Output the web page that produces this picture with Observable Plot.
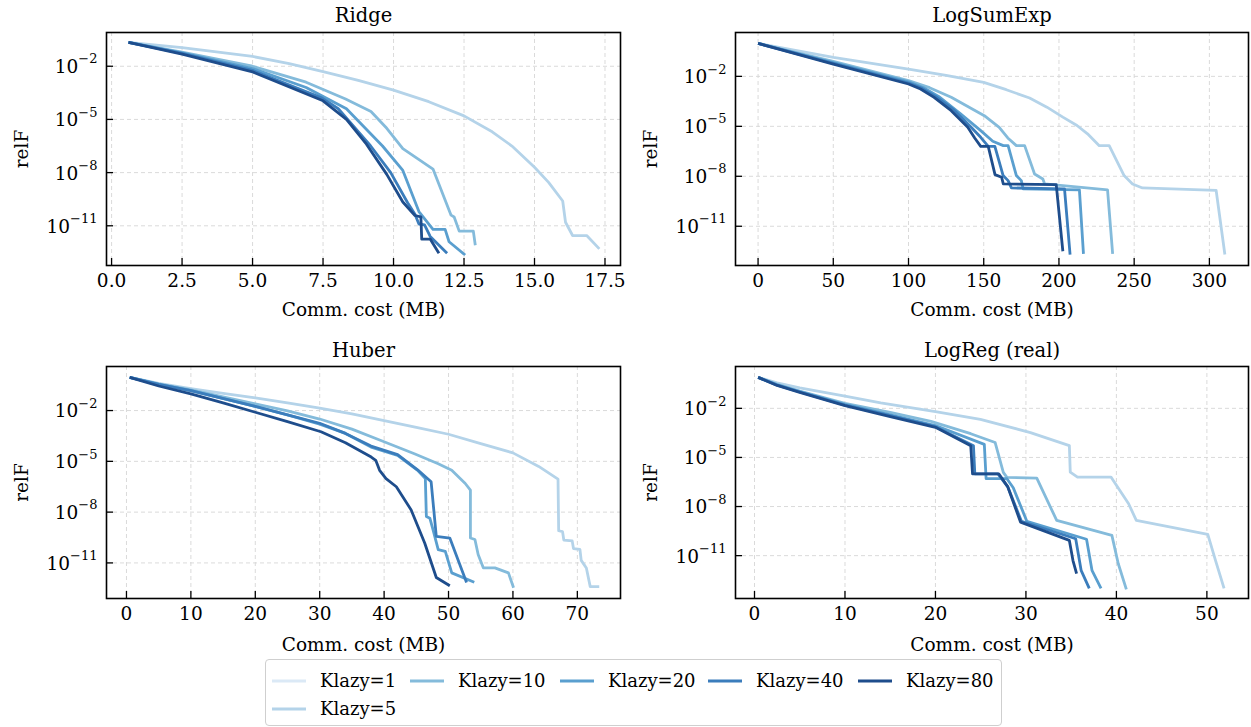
<!DOCTYPE html>
<html>
<head>
<meta charset="utf-8">
<script src="https://cdn.jsdelivr.net/npm/d3@7"></script>
<script src="https://cdn.jsdelivr.net/npm/@observablehq/plot@0.6"></script>
<style>
  html, body { margin: 0; padding: 0; background: #fff; }
  #root { position: relative; width: 1251px; height: 727px; background: #fff; font-family: "DejaVu Serif", serif; overflow: hidden; }
  .panel { position: absolute; }
  #legend { position: absolute; box-sizing: border-box; border: 1px solid #cfcfcf; border-radius: 4px; background: #fff; }
  .litem { position: absolute; font-size: 18px; color: #000; white-space: nowrap; line-height: 1; }
</style>
</head>
<body>
<div id="root"></div>
<script>
// ---------------- series identity ----------------
const kLabels = ["Klazy=1", "Klazy=5", "Klazy=10", "Klazy=20", "Klazy=40", "Klazy=80"];
const kColors = ["#dbe9f6", "#b4d3e9", "#84bbdb", "#5a9fcf", "#3b7dbc", "#1e4d8c"];

// ---------------- data: [comm. cost MB, relF] ----------------
// Ridge
const ridgeK5 = [[0.6,2.2e-1],[2.5,1.12e-1],[5,3.55e-2],[6.3,1.41e-2],[7.5,5.01e-3],[8.75,1.58e-3],[10,4.47e-4],[11.25,1e-4],[12.5,1.58e-5],[13.5,2e-6],[14.2,3.16e-7],[15.0,2e-8],[15.5,2.82e-9],[16.0,2.51e-10],[16.1,1.58e-11],[16.35,2.82e-12],[16.85,2.82e-12],[17.3,5.0e-13]];
const ridgeK10 = [[0.6,2.2e-1],[2.5,6.31e-2],[5,1e-2],[6.9,1.26e-3],[8.3,1.41e-4],[9.2,2.82e-5],[9.76,3.16e-6],[10.33,2.24e-7],[11.4,1.58e-8],[12.04,3.98e-11],[12.15,3.16e-11],[12.33,5.01e-12],[12.83,5.01e-12],[12.9,7.94e-13]];
const ridgeK20 = [[0.6,2.2e-1],[2.5,5.62e-2],[5,7.41e-3],[6.9,6.31e-4],[8.33,3.98e-5],[9.61,3.16e-7],[10.33,1.32e-8],[10.9,6.31e-11],[11.4,6.31e-12],[11.83,6.31e-12],[11.97,1.26e-12],[12.54,2.24e-13]];
const ridgeK40 = [[0.6,2.2e-1],[2.5,5.25e-2],[5,5.89e-3],[7.47,1.58e-4],[8.04,3.98e-5],[9.19,3.16e-7],[9.9,1e-8],[10.5,2e-10],[10.76,4.47e-11],[10.9,1.26e-11],[11.1,1.12e-11],[11.3,2.51e-12],[11.9,2.82e-13]];
const ridgeK80 = [[0.6,2.2e-1],[2.5,4.79e-2],[5,4.79e-3],[7.5,1.12e-4],[8.33,1e-5],[9.04,3.98e-7],[9.76,7.94e-9],[10.33,2.19e-10],[10.76,3.8e-11],[10.97,3.16e-11],[11.0,1.78e-12],[11.3,1.78e-12],[11.61,2.82e-13]];
// LogSumExp
const lseK5 = [[0,0.955],[50,0.138],[100,2.75e-2],[125,1.15e-2],[150,4.37e-3],[165,1.58e-3],[180.5,5.01e-4],[192,1.41e-4],[202.6,3.55e-5],[212,1.12e-5],[219,3.55e-6],[226.8,6.92e-7],[233.4,6.92e-7],[243.3,1.1e-8],[248.9,3.47e-9],[255.5,2e-9],[304.5,1.41e-9],[310.3,2e-13]];
const lseK10 = [[0,0.955],[50,7.94e-2],[100,5.5e-3],[114,2.09e-3],[128.4,5.5e-4],[150.4,4.37e-5],[160.3,8.71e-6],[166,2e-6],[171.7,6.92e-7],[177.2,6.92e-7],[183.8,1.38e-8],[189.3,6.92e-9],[190.5,3.47e-9],[232.3,1.51e-9],[235.7,2.19e-13]];
const lseK20 = [[0,0.955],[50,6.61e-2],[100,4.68e-3],[110,2.09e-3],[120,6.31e-4],[134,6.31e-5],[148,5.5e-6],[156,1.26e-6],[163,6.92e-7],[166.2,6.92e-7],[171.7,1.1e-8],[175,5.5e-9],[176.2,1.74e-9],[213.6,1.51e-9],[216.3,2.19e-13]];
const lseK40 = [[0,0.955],[50,6.03e-2],[100,3.98e-3],[109,1.91e-3],[118,6.31e-4],[130,1e-4],[141,1e-5],[148,2.19e-6],[153,6.31e-7],[157.4,6.31e-7],[162.9,1.1e-8],[166.2,5.5e-9],[168.4,2e-9],[203.7,1.74e-9],[207.4,2e-13]];
const lseK80 = [[0,0.955],[50,5.5e-2],[100,3.47e-3],[108,1.74e-3],[117,5.5e-4],[128.4,8.71e-5],[139.4,8.71e-6],[144,2e-6],[148,6.31e-7],[153,6.31e-7],[157.5,1.26e-8],[161.9,8.71e-9],[163,3.47e-9],[198.2,3.16e-9],[202.6,3.16e-13]];
// Huber
const huberK5 = [[0.5,0.912],[5,0.398],[10,0.2],[15,0.105],[20,5.62e-2],[25,2.82e-2],[30,1.41e-2],[35,6.31e-3],[40,2.51e-3],[45,1e-3],[50,3.98e-4],[55,1.12e-4],[60,3.16e-5],[64,5.01e-6],[67,8.91e-7],[67.1,7.94e-10],[67.7,7.08e-10],[67.9,2.24e-10],[69.2,2e-10],[69.4,7.08e-11],[70.4,6.31e-11],[70.6,1.41e-11],[71.4,5.01e-12],[72,3.98e-13],[73.4,3.98e-13]];
const huberK10 = [[0.5,0.912],[5,0.38],[10,0.166],[20,2.51e-2],[25,9.55e-3],[30,3.16e-3],[35,7.94e-4],[39.5,1.7e-4],[44.7,2.82e-5],[48.4,7.24e-6],[50.5,2.95e-6],[52.6,4.9e-7],[53.4,2e-7],[53.4,2.95e-10],[54.1,2.4e-10],[54.6,3.16e-11],[55.4,5.13e-12],[57.2,5.13e-12],[59.3,2.57e-12],[60.1,3.39e-13]];
const huberK20 = [[0.5,0.912],[5,0.355],[10,0.151],[20,1.74e-2],[25,5.62e-3],[30,1.58e-3],[34,4.47e-4],[37.97,6.92e-5],[42.1,2.24e-5],[45.2,2.95e-6],[46.4,9.55e-7],[46.56,5.5e-9],[47.1,4.37e-9],[47.6,8.91e-10],[48.4,6.03e-11],[49.5,4.79e-11],[50.5,2.57e-12],[54.0,7.24e-13]];
const huberK40 = [[0.5,0.912],[5,0.355],[10,0.151],[20,1.74e-2],[25,5.62e-3],[30,1.78e-3],[34,4.47e-4],[37.97,7.94e-5],[42.1,2.51e-5],[45.2,3.16e-6],[47.3,6.17e-7],[48.1,3.72e-10],[50.2,2.95e-10],[52.8,6.92e-13]];
const huberK80 = [[0.5,0.912],[5,0.282],[10,9.55e-2],[15,2.82e-2],[20,7.94e-3],[25,2.24e-3],[30.2,5.62e-4],[34,1.26e-4],[38,1.78e-5],[38.7,1.15e-5],[39.3,2.95e-6],[40.3,9.55e-7],[41.9,3.16e-7],[44.2,1.35e-8],[46.3,1.51e-10],[48.1,1.38e-12],[50.2,4.47e-13]];
// LogReg (real)
const logregK5 = [[0.4,0.776],[2.5,0.355],[5,0.178],[10,5.62e-2],[13.95,2.19e-2],[20,6.31e-3],[24.97,2.14e-3],[30.5,3.31e-4],[34.8,5.25e-5],[34.9,1.26e-6],[35.7,6.31e-7],[39.4,6.31e-7],[41.35,1.48e-8],[42.2,1.41e-9],[50.1,2e-10],[50.96,5.01e-12],[51.9,1e-13]];
const logregK10 = [[0.4,0.776],[2.5,0.295],[5,0.112],[10,2e-2],[15,5.62e-3],[19.5,1.58e-3],[23.9,2.82e-4],[26.6,8.13e-5],[27.5,1.23e-6],[27.9,6.03e-7],[31.2,5.5e-7],[33.4,1.41e-9],[39.5,1.74e-10],[40.2,3.31e-12],[41.1,8.71e-14]];
const logregK20 = [[0.4,0.776],[2.5,0.275],[5,0.105],[10,1.74e-2],[15,3.98e-3],[20,8.91e-4],[25.4,6.31e-5],[25.6,5.01e-7],[27.9,5.01e-7],[28.6,1.41e-7],[30.1,1.26e-9],[36.7,1e-10],[37.3,1.26e-12],[38.3,1e-13]];
const logregK40 = [[0.4,0.776],[2.5,0.263],[5,0.1],[10,1.58e-2],[15,3.55e-3],[20,7.59e-4],[24.2,5.25e-5],[24.35,1e-6],[26.9,1e-6],[28.0,1.58e-7],[29.5,1.26e-9],[35.5,1.07e-10],[36.1,1.26e-12],[37.0,1e-13]];
const logregK80 = [[0.4,0.776],[2.5,0.251],[5,9.55e-2],[10,1.45e-2],[15,3.16e-3],[20,6.92e-4],[23.9,5.25e-5],[24.1,1e-6],[27.0,1e-6],[28.0,1.58e-7],[29.4,1.12e-9],[34.8,8.51e-11],[35.2,5.01e-12],[35.6,7.94e-13]];

// ---------------- ticks ----------------
const yTicks = [1e-11, 1e-8, 1e-5, 1e-2];
const ridgeXTicks = [0, 2.5, 5, 7.5, 10, 12.5, 15, 17.5];
const lseXTicks = [0, 50, 100, 150, 200, 250, 300];
const huberXTicks = [0, 10, 20, 30, 40, 50, 60, 70];
const logregXTicks = [0, 10, 20, 30, 40, 50];

// ---------------- helpers ----------------
const FONT = "'DejaVu Serif', serif";
const TICK_FS = 18.5, EXP_FS = 13;
const expText = d => String(Math.round(Math.log10(d))).replace("-", "\u2212");
const measureCtx = document.createElement("canvas").getContext("2d");
const textWidth = (s, size) => { measureCtx.font = `${size}px 'DejaVu Serif'`; return measureCtx.measureText(s).width; };

function yTickLabelMarks() {
  const marks = [];
  for (const t of yTicks) {
    const e = expText(t);
    const w = textWidth(e, EXP_FS);
    marks.push(Plot.text([t], {y: d => d, text: () => e, frameAnchor: "left", textAnchor: "end", lineAnchor: "middle", dx: -9, dy: -7, fontSize: EXP_FS, fill: "#000"}));
    marks.push(Plot.text([t], {y: d => d, text: () => "10", frameAnchor: "left", textAnchor: "end", lineAnchor: "middle", dx: -9 - w, dy: 1, fontSize: TICK_FS, fill: "#000"}));
  }
  return marks;
}

function makePanel(p) {
  const W = p.width, H = p.height, m = p.margin;
  const iw = W - m.left - m.right, ih = H - m.top - m.bottom;
  const series = [
    {data: p.k5, color: kColors[1]},
    {data: p.k10, color: kColors[2]},
    {data: p.k20, color: kColors[3]},
    {data: p.k40, color: kColors[4]},
    {data: p.k80, color: kColors[5]}
  ];
  const marks = [
    Plot.ruleX(p.xTicks, {x: d => d, stroke: "#d6d6d6", strokeWidth: 0.9, strokeDasharray: "4,3"}),
    Plot.ruleY(yTicks, {y: d => d, stroke: "#d6d6d6", strokeWidth: 0.9, strokeDasharray: "4,3"}),
    ...series.map(s => Plot.line(s.data, {x: d => d[0], y: d => d[1], stroke: s.color, strokeWidth: 2.8, strokeLinejoin: "round", strokeLinecap: "butt"})),
    Plot.tickX(p.xTicks, {x: d => d, stroke: "#000", strokeWidth: 1.3, insetTop: ih - 7}),
    Plot.tickY(yTicks, {y: d => d, stroke: "#000", strokeWidth: 1.3, insetRight: iw - 7}),
    Plot.frame({stroke: "#000", strokeWidth: 1.6}),
    ...yTickLabelMarks(),
    Plot.text([p.title], {text: d => d, frameAnchor: "top", lineAnchor: "middle", textAnchor: "middle", dy: p.titleDy, fontSize: 19.5, fill: "#000"}),
    Plot.text(["Comm. cost (MB)"], {text: d => d, frameAnchor: "bottom", lineAnchor: "middle", textAnchor: "middle", dy: p.xLabelDy, fontSize: 18.5, fill: "#000"}),
    Plot.text(["relF"], {text: d => d, frameAnchor: "left", lineAnchor: "middle", textAnchor: "middle", dx: -84, rotate: -90, fontSize: 18.5, fill: "#000"})
  ];
  return Plot.plot({
    width: W, height: H,
    marginLeft: m.left, marginRight: m.right, marginTop: m.top, marginBottom: m.bottom,
    style: {fontFamily: FONT, fontSize: TICK_FS + "px", color: "#000", background: "transparent", overflow: "visible"},
    x: {type: "linear", domain: p.xDomain, ticks: p.xTicks, tickFormat: p.xFmt, tickSize: 0, tickPadding: 8, label: null},
    y: {type: "log", domain: p.yDomain, axis: null},
    marks
  });
}

const root = document.getElementById("root");
const panels = [
  {title: "Ridge", k5: ridgeK5, k10: ridgeK10, k20: ridgeK20, k40: ridgeK40, k80: ridgeK80,
   xTicks: ridgeXTicks, xFmt: d3.format(".1f"), xDomain: [-0.18, 18.05], yDomain: [5.75e-14, 0.8],
   left: 0, top: 0, width: 630, height: 330, margin: {left: 106, right: 10, top: 32, bottom: 65}, titleDy: -17, xLabelDy: 45},
  {title: "LogSumExp", k5: lseK5, k10: lseK10, k20: lseK20, k40: lseK40, k80: lseK80,
   xTicks: lseXTicks, xFmt: d => String(d), xDomain: [-15, 326], yDomain: [4.4e-14, 4.3],
   left: 630, top: 0, width: 621, height: 330, margin: {left: 105, right: 3, top: 32, bottom: 65}, titleDy: -17, xLabelDy: 45},
  {title: "Huber", k5: huberK5, k10: huberK10, k20: huberK20, k40: huberK40, k80: huberK80,
   xTicks: huberXTicks, xFmt: d => String(d), xDomain: [-3.1, 76.7], yDomain: [7.9e-14, 4.0],
   left: 0, top: 330, width: 630, height: 330, margin: {left: 106, right: 10, top: 36, bottom: 62}, titleDy: -16, xLabelDy: 47},
  {title: "LogReg (real)", k5: logregK5, k10: logregK10, k20: logregK20, k40: logregK40, k80: logregK80,
   xTicks: logregXTicks, xFmt: d => String(d), xDomain: [-2.1, 54.6], yDomain: [2.4e-14, 3.6],
   left: 630, top: 330, width: 621, height: 330, margin: {left: 105, right: 3, top: 36, bottom: 62}, titleDy: -16, xLabelDy: 47}
];
for (const p of panels) {
  const div = document.createElement("div");
  div.className = "panel";
  div.style.left = p.left + "px";
  div.style.top = p.top + "px";
  div.appendChild(makePanel(p));
  root.appendChild(div);
}

// ---------------- legend ----------------
const legendBox = {left: 265, top: 659, width: 737, height: 67};
const legendSlots = [ // matplotlib column-major order (ncol = 5)
  {x: 6, row: 0}, {x: 6, row: 1}, {x: 144, row: 0}, {x: 294, row: 0}, {x: 442, row: 0}, {x: 592, row: 0}
];
const legend = document.createElement("div");
legend.id = "legend";
Object.assign(legend.style, {left: legendBox.left + "px", top: legendBox.top + "px", width: legendBox.width + "px", height: legendBox.height + "px"});
kLabels.forEach((lab, i) => {
  const slot = legendSlots[i];
  const cy = slot.row === 0 ? 21 : 49;
  const item = document.createElement("div");
  item.className = "litem";
  item.style.left = slot.x + "px";
  item.style.top = (cy - 10) + "px";
  item.innerHTML = `<svg width="34" height="20" style="vertical-align:middle"><line x1="0" x2="34" y1="10" y2="10" stroke="${kColors[i]}" stroke-width="3"/></svg><span style="margin-left:14px;vertical-align:middle">${lab}</span>`;
  legend.appendChild(item);
});
root.appendChild(legend);
</script>
</body>
</html>
